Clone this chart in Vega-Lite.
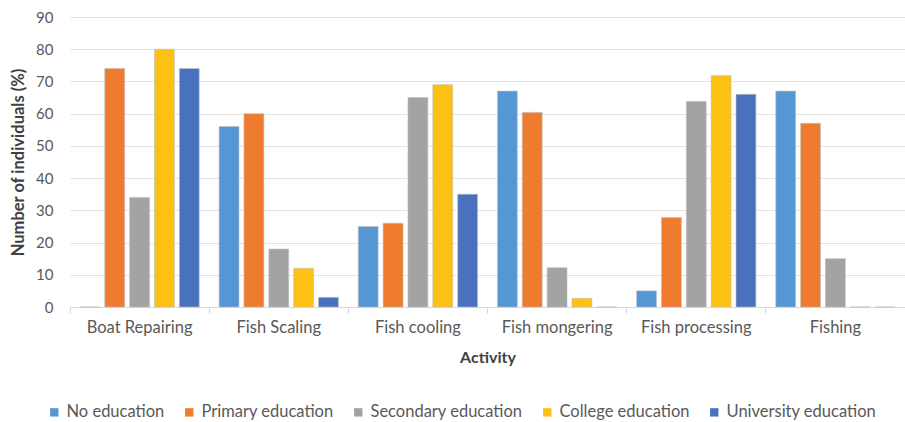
{
  "$schema": "https://vega.github.io/schema/vega-lite/v6.json",
  "width": 835,
  "height": 290,
  "autosize": "none",
  "padding": {"left": 70, "top": 17, "right": 0, "bottom": 115},
  "background": "white",
  "data": {
    "values": [
      {"activity": "Boat Repairing", "level": "No education", "pct": 0},
      {"activity": "Boat Repairing", "level": "Primary education", "pct": 74},
      {"activity": "Boat Repairing", "level": "Secondary education", "pct": 34},
      {"activity": "Boat Repairing", "level": "College education", "pct": 80},
      {"activity": "Boat Repairing", "level": "University education", "pct": 74},
      {"activity": "Fish Scaling", "level": "No education", "pct": 56},
      {"activity": "Fish Scaling", "level": "Primary education", "pct": 60},
      {"activity": "Fish Scaling", "level": "Secondary education", "pct": 18},
      {"activity": "Fish Scaling", "level": "College education", "pct": 12},
      {"activity": "Fish Scaling", "level": "University education", "pct": 3},
      {"activity": "Fish cooling", "level": "No education", "pct": 25},
      {"activity": "Fish cooling", "level": "Primary education", "pct": 26},
      {"activity": "Fish cooling", "level": "Secondary education", "pct": 65},
      {"activity": "Fish cooling", "level": "College education", "pct": 69},
      {"activity": "Fish cooling", "level": "University education", "pct": 35},
      {"activity": "Fish mongering", "level": "No education", "pct": 67},
      {"activity": "Fish mongering", "level": "Primary education", "pct": 60.4},
      {"activity": "Fish mongering", "level": "Secondary education", "pct": 12.2},
      {"activity": "Fish mongering", "level": "College education", "pct": 2.7},
      {"activity": "Fish mongering", "level": "University education", "pct": 0},
      {"activity": "Fish processing", "level": "No education", "pct": 5},
      {"activity": "Fish processing", "level": "Primary education", "pct": 27.8},
      {"activity": "Fish processing", "level": "Secondary education", "pct": 63.8},
      {"activity": "Fish processing", "level": "College education", "pct": 71.8},
      {"activity": "Fish processing", "level": "University education", "pct": 66},
      {"activity": "Fishing", "level": "No education", "pct": 67},
      {"activity": "Fishing", "level": "Primary education", "pct": 57},
      {"activity": "Fishing", "level": "Secondary education", "pct": 15},
      {"activity": "Fishing", "level": "College education", "pct": 0},
      {"activity": "Fishing", "level": "University education", "pct": 0}
    ]
  },
  "config": {
    "font": "Lato",
    "view": {"stroke": null}
  },
  "mark": {"type": "bar", "stroke": "#bfbfbf", "strokeWidth": 0.6},
  "encoding": {
    "x": {
      "field": "activity",
      "type": "nominal",
      "sort": null,
      "scale": {"paddingInner": 0, "paddingOuter": 0},
      "axis": {
        "title": "Activity",
        "titleFontSize": 16,
        "titleFontWeight": "bold",
        "titleColor": "#404040",
        "titlePadding": 14,
        "labelAngle": 0,
        "labelFontSize": 16.5,
        "labelColor": "#595959",
        "labelPadding": 6,
        "bandPosition": 0,
        "tickSize": 6,
        "tickColor": "#d9d9d9",
        "domainColor": "#d9d9d9",
        "grid": false
      }
    },
    "xOffset": {
      "field": "level",
      "type": "nominal",
      "sort": ["No education", "Primary education", "Secondary education", "College education", "University education"],
      "scale": {"paddingInner": 0.2, "paddingOuter": 0.4}
    },
    "y": {
      "field": "pct",
      "type": "quantitative",
      "scale": {"domain": [0, 90]},
      "axis": {
        "title": "Number of individuals (%)",
        "titleFontSize": 16.5,
        "titleFontWeight": "bold",
        "titleColor": "#404040",
        "titlePadding": 9,
        "values": [0, 10, 20, 30, 40, 50, 60, 70, 80, 90],
        "labelFontSize": 15,
        "labelColor": "#595959",
        "labelPadding": 17,
        "ticks": false,
        "domain": false,
        "gridColor": "#e3e3e3",
        "gridWidth": 1.2
      }
    },
    "color": {
      "field": "level",
      "type": "nominal",
      "sort": ["No education", "Primary education", "Secondary education", "College education", "University education"],
      "scale": {
        "domain": ["No education", "Primary education", "Secondary education", "College education", "University education"],
        "range": ["#5497d3", "#ee7b2e", "#a3a3a3", "#fcc113", "#4a71bd"]
      },
      "legend": {
        "title": null,
        "orient": "none",
        "legendX": -24,
        "legendY": 387,
        "direction": "horizontal",
        "symbolType": "square",
        "symbolSize": 70,
        "symbolStrokeWidth": 0,
        "labelFontSize": 16.5,
        "labelColor": "#595959",
        "columnPadding": 16,
        "labelOffset": 4
      }
    }
  }
}
